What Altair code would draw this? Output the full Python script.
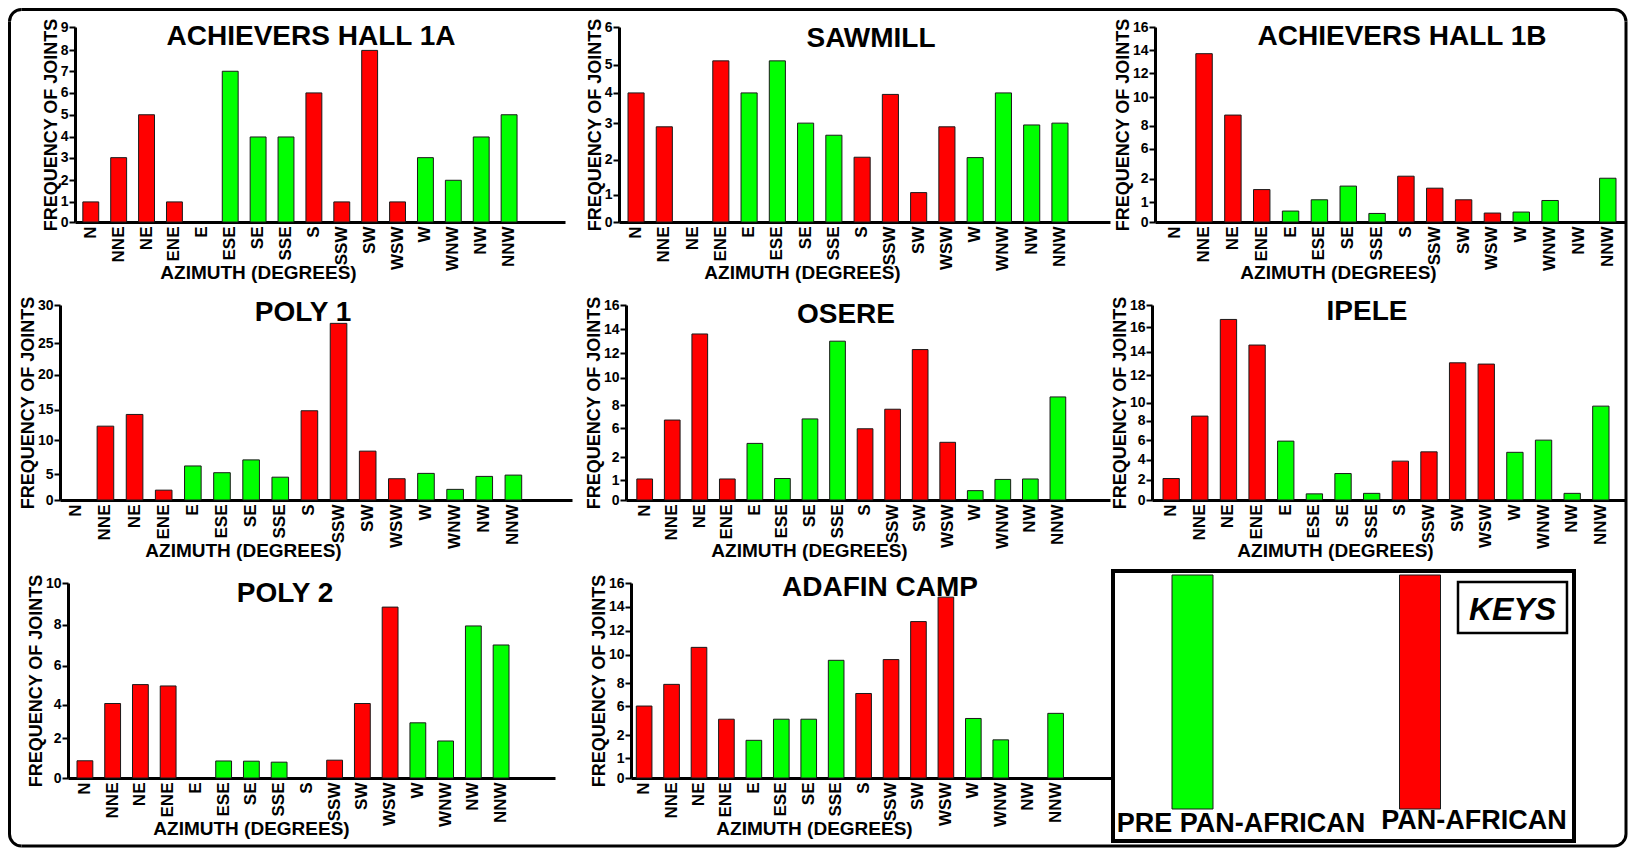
import math
import altair as alt
import pandas as pd

# ---------------- data ----------------
azimuths = ["N", "NNE", "NE", "ENE", "E", "ESE", "SE", "SSE",
            "S", "SSW", "SW", "WSW", "W", "WNW", "NW", "NNW"]
phase_of = ["PAN-AFRICAN"] * 4 + ["PRE PAN-AFRICAN"] * 4 + ["PAN-AFRICAN"] * 4 + ["PRE PAN-AFRICAN"] * 4

site_names = ["ACHIEVERS HALL 1A", "SAWMILL", "ACHIEVERS HALL 1B",
              "POLY 1", "OSERE", "IPELE", "POLY 2", "ADAFIN CAMP"]

ach1a = [1, 3, 5, 1, 0, 7, 4, 4, 6, 1, 8, 1, 3, 2, 4, 5]
sawmill = [4, 2.9, 0, 5.1, 4, 5.1, 3, 2.67, 2.07, 3.95, 1.06, 2.9, 2.06, 4, 2.95, 3]
ach1b = [0, 13.7, 8.75, 1.54, 0.55, 1.1, 1.69, 0.43, 2.36, 1.6, 1.1, 0.45, 0.5, 1.07, 0, 2.09]
poly1 = [0, 12.3, 14.2, 1.9, 6.2, 5.2, 7.1, 4.4, 14.8, 27.6, 8.4, 4.1, 5.1, 2.05, 4.55, 4.8]
osere = [1.05, 6.7, 13.6, 1.05, 3.9, 1.07, 6.8, 13.0, 5.9, 7.65, 12.3, 4.05, 0.47, 1.03, 1.05, 8.6]
ipele = [2.1, 8.5, 16.7, 14.55, 5.9, 0.6, 2.6, 0.65, 3.85, 4.8, 13.06, 12.95, 4.75, 6.0, 0.65, 9.6]
poly2 = [0.87, 4.07, 5.04, 4.97, 0, 0.86, 0.85, 0.8, 0, 0.9, 4.07, 8.85, 2.93, 1.87, 7.95, 7.02]
adafin = [6.0, 7.9, 10.6, 4.2, 1.78, 4.2, 4.2, 9.6, 7.1, 9.65, 12.75, 14.8, 4.3, 1.8, 0, 5.0]
site_values = [ach1a, sawmill, ach1b, poly1, osere, ipele, poly2, adafin]

# y-axis tick labels of each panel (the original axes are not evenly spaced)
ticks_1a = [0, 1, 2, 3, 4, 5, 6, 7, 8, 9]
ticks_saw = [0, 1, 2, 3, 4, 5, 6]
ticks_1b = [0, 1, 2, 6, 8, 10, 12, 14, 16]
ticks_p1 = [0, 5, 10, 15, 20, 25, 30]
ticks_os = [0, 1, 2, 6, 8, 10, 12, 14, 16]
ticks_ip = [0, 2, 4, 6, 8, 10, 12, 14, 16, 18]
ticks_p2 = [0, 2, 4, 6, 8, 10]
ticks_ad = [0, 1, 2, 6, 8, 10, 12, 14, 16]
site_ticks = [ticks_1a, ticks_saw, ticks_1b, ticks_p1, ticks_os, ticks_ip, ticks_p2, ticks_ad]

key_labels = ["PRE PAN-AFRICAN", "PAN-AFRICAN"]
key_colors = ["#00FF00", "#FF0000"]

# ---------------- styling / layout ----------------
# relative height (0 = axis origin, 1 = top tick) of each tick on the original axes
frac_1a = [0, 0.103, 0.214, 0.330, 0.436, 0.550, 0.662, 0.773, 0.880, 1]
frac_saw = [0, 0.140, 0.319, 0.507, 0.662, 0.807, 1]
frac_1b = [0, 0.102, 0.221, 0.375, 0.494, 0.639, 0.762, 0.881, 1]
frac_p1 = [0, 0.133, 0.306, 0.464, 0.643, 0.804, 1]
frac_os = [0, 0.102, 0.219, 0.369, 0.486, 0.628, 0.753, 0.876, 1]
frac_ip = [0, 0.105, 0.207, 0.307, 0.407, 0.500, 0.640, 0.760, 0.886, 1]
frac_p2 = [0, 0.203, 0.375, 0.575, 0.785, 1]
frac_ad = [0, 0.102, 0.219, 0.369, 0.486, 0.633, 0.756, 0.879, 1]
site_fracs = [frac_1a, frac_saw, frac_1b, frac_p1, frac_os, frac_ip, frac_p2, frac_ad]

# (plot width, left gap, right gap, title x, title baseline)
site_layout = [
    (490, 8, 49, 236, 18),
    (491, 9, 42, 252, 20),
    (471, 12, 10, 247, 18),
    (512, 10, 63, 243, 16),
    (484, 12, 49, 220, 18),
    (474, 11, 17, 215, 15),
    (487, 9, 46, 217, 19),
    (482, 6, 56, 249, 13),
]

H = 195
FONT = "Liberation Sans"
PI = 0.43

# frame (rounded outer border), page coordinates
ORIGIN_X = 8
ROW_Y = [27, 305, 583]
ROW_SPANS = [(None, 259), (-19, 259), (-19, None)]
FL, FR, FT, FB, FRAD, FW = 9.5, 1626, 9.5, 846, 12, 3


def band(x, x2, y, y2):
    # solid black strip; a filled rect so its layout bounds equal what is drawn
    return alt.Chart(alt.Data(values=[{}])).mark_rect(color="black").encode(
        x=alt.value(x), x2=alt.value(x2), y=alt.value(y), y2=alt.value(y2))


def corner(cx, cy, t0, t1):
    return alt.Chart(alt.Data(values=[{}])).mark_arc(
        color="black", innerRadius=FRAD - FW / 2, outerRadius=FRAD + FW / 2,
        theta=t0, theta2=t1).encode(x=alt.value(cx), y=alt.value(cy))


def frame_cell(row, w):
    oy = ROW_Y[row]
    lx, rx = FL - ORIGIN_X, FR - ORIGIN_X
    hw = FW / 2
    top, bot = ROW_SPANS[row]
    parts = []
    if top is None:  # first row: top edge and upper corners
        ty = FT - oy
        top = ty + FRAD
        parts += [band(lx + FRAD, rx - FRAD, ty - hw, ty + hw),
                  corner(lx + FRAD, ty + FRAD, 1.5 * math.pi, 2 * math.pi),
                  corner(rx - FRAD, ty + FRAD, 0, 0.5 * math.pi)]
    if bot is None:  # last row: bottom edge and lower corners
        by = FB - oy
        bot = by - FRAD
        parts += [band(lx + FRAD, rx - FRAD, by - hw, by + hw),
                  corner(lx + FRAD, by - FRAD, math.pi, 1.5 * math.pi),
                  corner(rx - FRAD, by - FRAD, 0.5 * math.pi, math.pi)]
    parts += [band(lx - hw, lx + hw, top, bot), band(rx - hw, rx + hw, top, bot)]
    return alt.layer(*parts).properties(width=w, height=H)


def gap(w):
    return alt.Chart(alt.Data(values=[{}])).mark_rule(opacity=0).encode(
        x=alt.value(1), y=alt.value(1), y2=alt.value(2)).properties(width=w, height=H)


def panel(i):
    name = site_names[i]
    vals = site_values[i]
    ticks = site_ticks[i]
    fracs = site_fracs[i]
    W, L, R, tx, ty = site_layout[i]
    n = len(azimuths)
    step = (W - L - R) / (n - PI)
    po = min(1.0, (L + R) / (2 * step))
    al = L / (L + R)
    df = pd.DataFrame({"az": azimuths, "freq": vals, "phase": phase_of})
    df = df[df["freq"] > 0]
    yrange = [H * (1 - f) for f in fracs]
    bars = alt.Chart(df).mark_bar(stroke="#1a1a1a", strokeWidth=1).encode(
        x=alt.X("az:N", sort=azimuths,
                scale=alt.Scale(domain=azimuths, paddingInner=PI, paddingOuter=po, align=al),
                axis=alt.Axis(title="AZIMUTH (DEGREES)", labelAngle=270, labelAlign="right",
                              labelBaseline="middle", labelFont=FONT, labelFontSize=17,
                              labelFontWeight="bold", labelColor="black", labelPadding=4,
                              ticks=False, domainWidth=3, domainColor="black",
                              titleFont=FONT, titleFontSize=19, titleFontWeight="bold",
                              titleColor="black", titleX=183, titleY=41,
                              titleBaseline="top", titleAlign="center")),
        y=alt.Y("freq:Q",
                scale=alt.Scale(domain=ticks, range=yrange, nice=False, zero=False),
                axis=alt.Axis(title="FREQUENCY OF JOINTS", values=ticks, format="d",
                              labelFont=FONT, labelFontSize=14, labelFontWeight="bold",
                              labelColor="black", labelPadding=1, tickSize=6, tickWidth=2,
                              tickColor="black", domainWidth=3, domainColor="black",
                              grid=False, titleFont=FONT,
                              titleFontSize=18, titleFontWeight="bold", titleColor="black",
                              titlePadding=0)),
        color=alt.Color("phase:N", scale=alt.Scale(domain=key_labels, range=key_colors), legend=None),
    )
    title = alt.Chart(alt.Data(values=[{"t": name}])).mark_text(
        font=FONT, fontSize=28, fontWeight="bold", color="black", align="center",
        baseline="alphabetic").encode(x=alt.value(tx), y=alt.value(ty), text="t:N")
    return alt.layer(bars, title).properties(width=W, height=H)


def key_panel():
    KW, KH, KO = 461, 258, -12
    kdf = pd.DataFrame({"phase": key_labels, "v": [1, 1]})
    box = alt.Chart(alt.Data(values=[{}])).mark_rect(
        fill="white", stroke="black", strokeWidth=4).encode(
        x=alt.value(0), x2=alt.value(KW), y=alt.value(KO), y2=alt.value(KH))
    bars = alt.Chart(kdf).mark_bar(size=41, stroke="#1a1a1a", strokeWidth=1).encode(
        x=alt.X("phase:N", sort=key_labels,
                scale=alt.Scale(type="point", domain=key_labels, range=[79.5, 307], padding=0),
                axis=None),
        y=alt.Y("v:Q", scale=alt.Scale(domain=[0, 1], range=[226, -8]), axis=None),
        color=alt.Color("phase:N", scale=alt.Scale(domain=key_labels, range=key_colors), legend=None),
    )
    lab1 = alt.Chart(alt.Data(values=[{"t": key_labels[0]}])).mark_text(
        font=FONT, fontSize=27, fontWeight="bold", color="black", align="center",
        baseline="alphabetic").encode(x=alt.value(128), y=alt.value(249), text="t:N")
    lab2 = alt.Chart(alt.Data(values=[{"t": key_labels[1]}])).mark_text(
        font=FONT, fontSize=27, fontWeight="bold", color="black", align="center",
        baseline="alphabetic").encode(x=alt.value(361), y=alt.value(246), text="t:N")
    kbox = alt.Chart(alt.Data(values=[{}])).mark_rect(
        fill="white", stroke="black", strokeWidth=2.5).encode(
        x=alt.value(345), x2=alt.value(454), y=alt.value(-1), y2=alt.value(50))
    keys = alt.Chart(alt.Data(values=[{"t": "KEYS"}])).mark_text(
        font=FONT, fontSize=32, fontWeight="bold", fontStyle="italic", color="black",
        align="center", baseline="alphabetic").encode(
        x=alt.value(399.5), y=alt.value(37), text="t:N")
    return alt.layer(box, bars, lab1, lab2, kbox, keys).properties(width=KW, height=KH)


p = [panel(i) for i in range(8)]
row1 = alt.hconcat(frame_cell(0, 67), p[0], gap(54), p[1], gap(45), p[2],
                   spacing=0, bounds="flush")
row2 = alt.hconcat(frame_cell(1, 52), p[3], gap(54), p[4], gap(42), p[5],
                   spacing=0, bounds="flush")
row3 = alt.hconcat(frame_cell(2, 60), p[6], gap(76), p[7], key_panel(),
                   spacing=0, bounds="flush")

chart = alt.vconcat(row1, row2, row3, spacing=0).properties(
    padding={"left": 0, "top": 0, "right": 0, "bottom": 0}
).configure(background="white").configure_view(stroke=None, strokeWidth=0)

chart.save("out.html", embed_options={"renderer": "svg", "actions": False})
